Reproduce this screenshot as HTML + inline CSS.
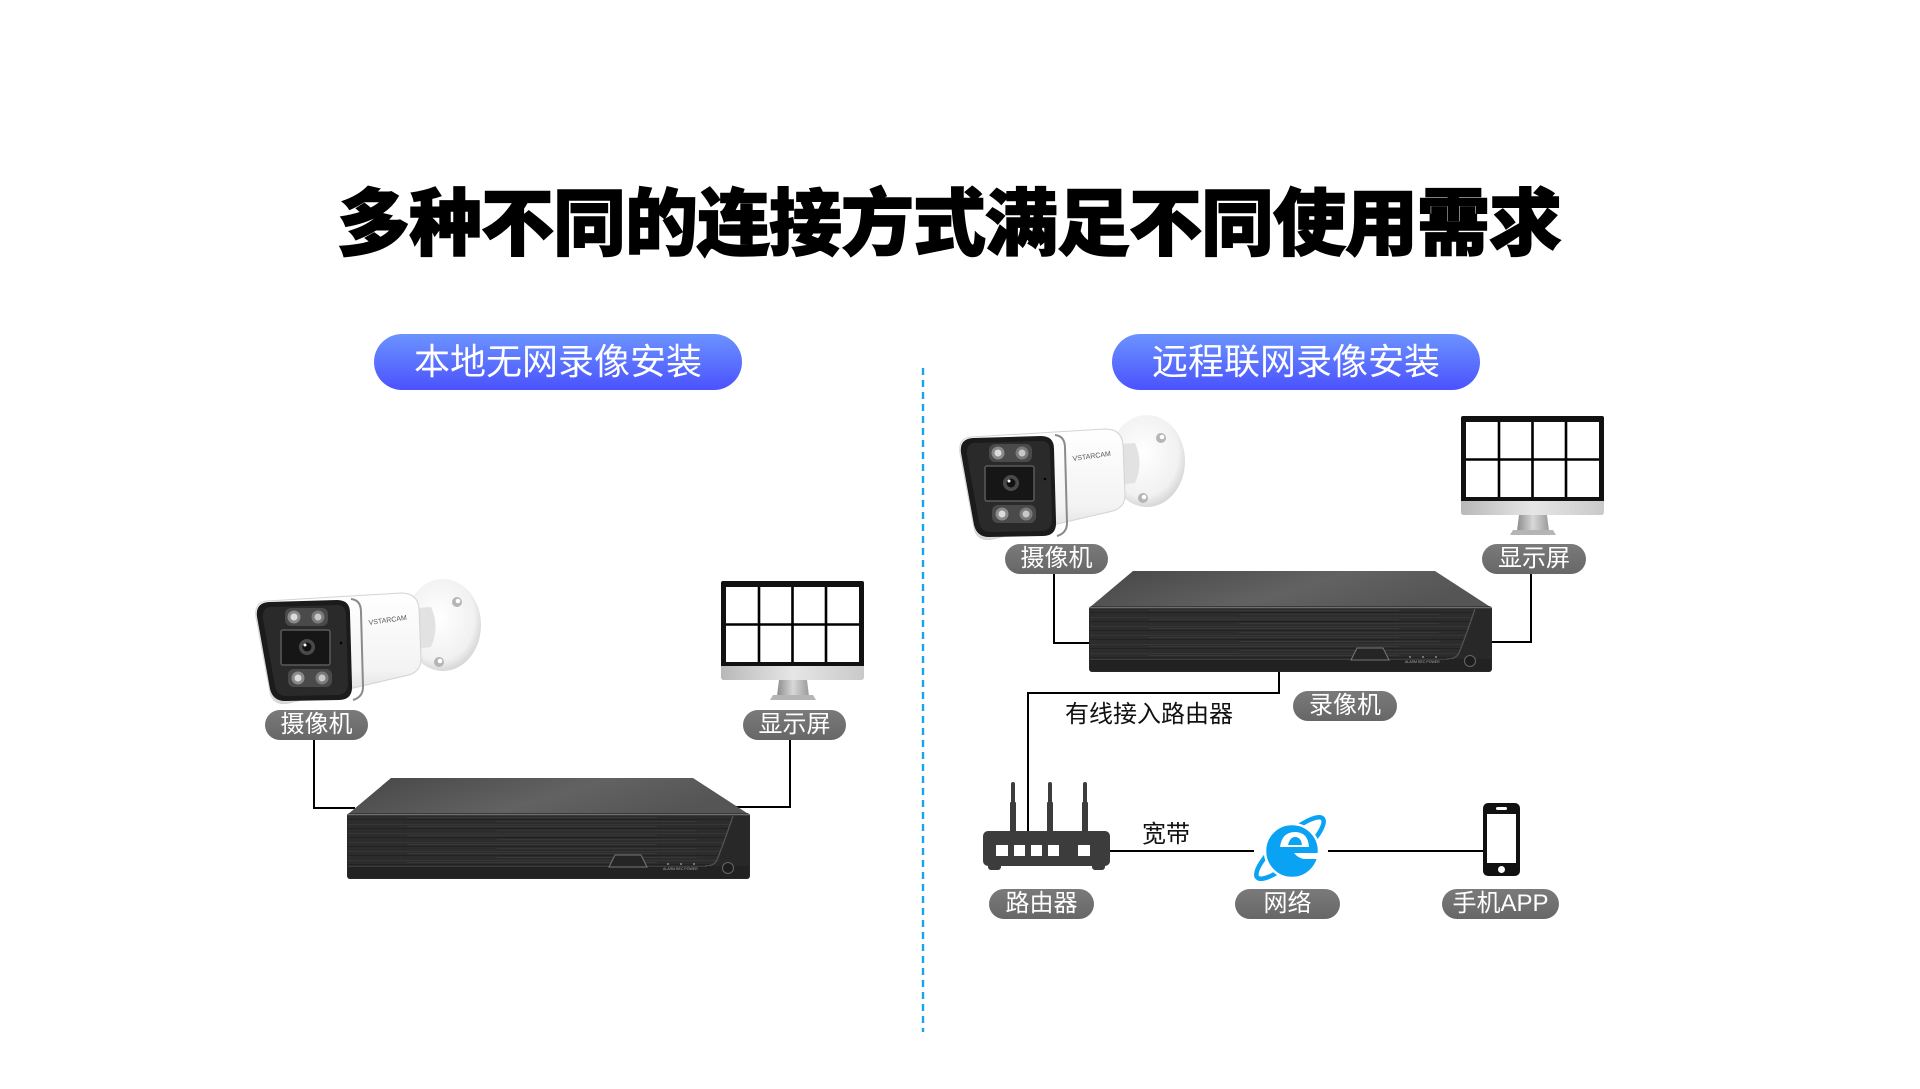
<!DOCTYPE html>
<html><head><meta charset="utf-8">
<style>
html,body{margin:0;padding:0;}
body{width:1920px;height:1089px;background:#fff;position:relative;overflow:hidden;font-family:"Liberation Sans","Noto Sans CJK SC",sans-serif;}
.title{position:absolute;left:337px;top:188px;font-size:73px;line-height:73px;font-weight:900;letter-spacing:-1px;color:#000;white-space:nowrap;-webkit-text-stroke:1.4px #000;}
.bpill{position:absolute;height:56px;width:368px;border-radius:28px;background:linear-gradient(#6b93ff,#4b52fe);color:#fff;font-size:36px;line-height:36px;display:flex;align-items:center;justify-content:center;white-space:nowrap;}
.gpill{position:absolute;height:30px;border-radius:15px;background:linear-gradient(#7a7a7a,#676767);color:#fff;font-size:24px;line-height:24px;display:flex;align-items:center;justify-content:center;white-space:nowrap;}
.lbl{position:absolute;font-size:24px;line-height:24px;color:#111;white-space:nowrap;}
svg{position:absolute;left:0;top:0;}
</style></head><body>
<svg width="1920" height="1089" viewBox="0 0 1920 1089">
<defs>
  <linearGradient id="dvrTop" x1="0" y1="0" x2="1" y2="0.3">
    <stop offset="0" stop-color="#464646"/><stop offset="0.6" stop-color="#626262"/><stop offset="1" stop-color="#555"/>
  </linearGradient>
  <pattern id="brush" patternUnits="userSpaceOnUse" width="403" height="9">
    <rect width="403" height="9" fill="#2c2c2c"/>
    <rect y="1" width="403" height="1" fill="#3a3a3a" opacity="0.7"/>
    <rect x="60" y="3" width="250" height="1" fill="#444" opacity="0.5"/>
    <rect y="5" width="403" height="1" fill="#222"/>
    <rect x="150" y="7" width="200" height="1" fill="#3d3d3d" opacity="0.6"/>
  </pattern>
  <linearGradient id="silver" x1="0" y1="0" x2="1" y2="0">
    <stop offset="0" stop-color="#b8b8b8"/><stop offset="0.5" stop-color="#e6e6e6"/><stop offset="1" stop-color="#c9c9c9"/>
  </linearGradient>
  <linearGradient id="neck" x1="0" y1="0" x2="1" y2="0">
    <stop offset="0" stop-color="#8c8c8c"/><stop offset="0.5" stop-color="#d8d8d8"/><stop offset="1" stop-color="#9a9a9a"/>
  </linearGradient>
  <linearGradient id="camBody" x1="0" y1="0" x2="0" y2="1">
    <stop offset="0" stop-color="#ffffff"/><stop offset="0.7" stop-color="#f3f3f3"/><stop offset="1" stop-color="#d9d9d9"/>
  </linearGradient>
  <radialGradient id="disc" cx="0.45" cy="0.42" r="0.62">
    <stop offset="0" stop-color="#ffffff"/><stop offset="0.75" stop-color="#f1f1f1"/><stop offset="1" stop-color="#cfcfcf"/>
  </radialGradient>

  <symbol id="dvr" viewBox="0 0 403 101">
    <path d="M44,0 L346,0 L403,37 L0,37 Z" fill="url(#dvrTop)"/>
    <rect x="0" y="35" width="403" height="66" rx="3" fill="#282828"/>
    <path d="M1,38 L386,38 Q378,62 370,82 Q367,88 358,88 L1,88 Z" fill="url(#brush)"/>
    <path d="M386,38 Q378,62 370,82 Q367,88 358,88" fill="none" stroke="#555" stroke-width="1.2"/>
    <line x1="1" y1="36.5" x2="402" y2="36.5" stroke="#6e6e6e" stroke-width="1.5"/>
    <rect x="1" y="88" width="401" height="12" fill="#222"/>
    <line x1="1" y1="88.5" x2="360" y2="88.5" stroke="#3c3c3c" stroke-width="1"/>
    <path d="M262,89 L268,77 L294,77 L300,89 Z" fill="#252525" stroke="#777" stroke-width="1"/>
    <circle cx="321" cy="86" r="0.9" fill="#aaa"/><circle cx="334" cy="86" r="0.9" fill="#aaa"/><circle cx="347" cy="86" r="0.9" fill="#aaa"/>
    <text x="316" y="92" font-size="3.5" fill="#aaa" font-family="Liberation Sans">ALARM  REC  POWER</text>
    <circle cx="381" cy="90" r="5.5" fill="#1d1d1d" stroke="#666" stroke-width="1"/>
  </symbol>

  <symbol id="mon" viewBox="0 0 143 119">
    <rect x="0" y="0" width="143" height="87" rx="2" fill="#111"/>
    <rect x="5" y="6" width="133" height="75" fill="#fff"/>
    <line x1="38" y1="6" x2="38" y2="81" stroke="#000" stroke-width="2.6"/>
    <line x1="71.5" y1="6" x2="71.5" y2="81" stroke="#000" stroke-width="2.6"/>
    <line x1="105" y1="6" x2="105" y2="81" stroke="#000" stroke-width="2.6"/>
    <line x1="5" y1="43.5" x2="138" y2="43.5" stroke="#000" stroke-width="2.6"/>
    <path d="M0,85 L143,85 L143,96 Q143,99 140,99 L3,99 Q0,99 0,96 Z" fill="url(#silver)"/>
    <path d="M58,99 L86,99 L88,115 L56,115 Z" fill="url(#neck)"/>
    <path d="M52,114 L92,114 L95,119 L49,119 Z" fill="#b5b5b5"/>
  </symbol>

  <symbol id="cam" viewBox="0 0 230 125">
    <ellipse cx="190" cy="46" rx="38" ry="46" fill="url(#disc)"/>
    <circle cx="204" cy="23" r="5" fill="#b5b5b5"/><circle cx="205" cy="22" r="2.3" fill="#fff"/>
    <circle cx="186" cy="83" r="5" fill="#b5b5b5"/><circle cx="187" cy="82" r="2.3" fill="#fff"/>
    <path d="M150,30 L178,28 Q187,48 178,68 L150,72 Z" fill="#e2e2e2"/>
    <path d="M14,22 L148,14 Q165,14 166,30 L168,80 Q168,92 156,96 L36,124 Q20,127 17,113 L3,38 Q1,23 14,22 Z" fill="url(#camBody)" stroke="#d3d3d3" stroke-width="1"/>
    <path d="M98,20 Q108,21 108,33 L110,108 Q110,118 100,121" fill="none" stroke="#8a8a8a" stroke-width="2"/>
    <path d="M16,23 L84,21 Q97,21 97,34 L99,106 Q100,121 86,121 L32,122 Q20,122 17,110 L4,38 Q2,24 16,23 Z" fill="#1b1b1b"/>
    <path d="M18,28 L84,26 Q93,26 93,36 L95,104 Q95,116 84,116 L33,117 Q24,117 22,107 L10,40 Q9,28 18,28 Z" fill="#2a2a2a"/>
    <rect x="32" y="29" width="43" height="18" rx="6" fill="#4a4a4a"/>
    <circle cx="41" cy="38" r="6.5" fill="#8a8a8a"/><circle cx="41" cy="38" r="3.5" fill="#dcdcdc"/>
    <circle cx="65" cy="38" r="6.5" fill="#7a7a7a"/><circle cx="65" cy="38" r="3.5" fill="#c8c8c8"/>
    <rect x="28" y="51" width="49" height="35" rx="2" fill="#161616" stroke="#5a5a5a" stroke-width="1.5"/>
    <circle cx="54" cy="68" r="8" fill="#4a4a4a"/><circle cx="54" cy="68" r="4.5" fill="#111"/><circle cx="52" cy="66" r="1.5" fill="#fff"/>
    <circle cx="88" cy="64" r="1.3" fill="#000"/>
    <rect x="35" y="90" width="44" height="18" rx="6" fill="#4a4a4a"/>
    <circle cx="45" cy="99" r="6.5" fill="#8a8a8a"/><circle cx="45" cy="99" r="3.5" fill="#dcdcdc"/>
    <circle cx="69" cy="99" r="6.5" fill="#7a7a7a"/><circle cx="69" cy="99" r="3.5" fill="#c8c8c8"/>
    <text x="116" y="46" font-size="7" fill="#555" font-family="Liberation Sans" transform="rotate(-8 116 46)">VSTARCAM</text>
  </symbol>
</defs>

<!-- divider -->
<line x1="923" y1="368" x2="923" y2="1032" stroke="#1aa3ea" stroke-width="2.4" stroke-dasharray="7 5"/>

<!-- connector lines -->
<g stroke="#000" stroke-width="2" fill="none">
  <polyline points="314,738 314,808 355,808"/>
  <polyline points="790,738 790,807 735,807"/>
  <polyline points="1054,573 1054,643 1094,643"/>
  <polyline points="1531,573 1531,642 1488,642"/>
  <polyline points="1279,670 1279,693 1028,693 1028,832"/>
  <line x1="1108" y1="851" x2="1254" y2="851"/>
  <line x1="1328" y1="851" x2="1484" y2="851"/>
</g>

<!-- left devices -->
<use href="#cam" x="253" y="579" width="230" height="125"/>
<use href="#mon" x="721" y="581" width="143" height="119"/>
<use href="#dvr" x="347" y="778" width="403" height="101"/>

<!-- right devices -->
<use href="#cam" x="957" y="415" width="230" height="125"/>
<use href="#mon" x="1461" y="416" width="143" height="119"/>
<use href="#dvr" x="1089" y="571" width="403" height="101"/>

<!-- router -->
<g fill="#3c3c3c">
  <rect x="1011" y="782" width="4" height="50" rx="2"/>
  <rect x="1010" y="802" width="6" height="30" rx="1"/>
  <rect x="1048" y="782" width="4" height="50" rx="2"/>
  <rect x="1047" y="802" width="6" height="30" rx="1"/>
  <rect x="1083" y="782" width="4" height="50" rx="2"/>
  <rect x="1082" y="802" width="6" height="30" rx="1"/>
  <rect x="983" y="831" width="127" height="35" rx="5"/>
  <rect x="988" y="862" width="13" height="8" rx="3"/>
  <rect x="1092" y="862" width="13" height="8" rx="3"/>
</g>
<g fill="#fff">
  <rect x="996" y="845" width="12" height="11"/>
  <rect x="1014" y="845" width="11" height="11"/>
  <rect x="1031" y="845" width="11" height="11"/>
  <rect x="1048" y="845" width="11" height="11"/>
  <rect x="1078" y="845" width="12" height="11"/>
</g>

<!-- IE logo -->
<g transform="translate(1290,848)">
  <ellipse cx="0" cy="0" rx="44" ry="12" transform="rotate(-42)" fill="none" stroke="#0aa2f2" stroke-width="4.5"/>
  <circle cx="2" cy="3" r="27" fill="#0aa2f2" stroke="#fff" stroke-width="2.5"/>
  <path d="M-10,-1 Q-8,-16 5,-16 Q18,-16 19,-1 Z" fill="#fff"/>
  <path d="M-2,-3 Q0,-11 5,-11 Q11,-11 12,-3 Z" fill="#0aa2f2"/>
  <path d="M4,5 L32,5 L32,11 L14,11 Q8,10 4,5 Z" fill="#fff"/>
</g>

<!-- phone -->
<rect x="1483" y="803" width="37" height="73" rx="5" fill="#111"/>
<rect x="1487" y="814" width="29" height="49" fill="#fff"/>
<rect x="1496" y="807" width="11" height="3" rx="1.5" fill="#fff"/>
<circle cx="1501.5" cy="869.5" r="3.5" fill="#fff"/>
</svg>

<div class="title">多种不同的连接方式满足不同使用需求</div>

<div class="bpill" style="left:374px;top:334px;">本地无网录像安装</div>
<div class="bpill" style="left:1112px;top:334px;">远程联网录像安装</div>

<div class="gpill" style="left:265px;top:710px;width:103px;">摄像机</div>
<div class="gpill" style="left:743px;top:710px;width:103px;">显示屏</div>
<div class="gpill" style="left:1005px;top:544px;width:103px;">摄像机</div>
<div class="gpill" style="left:1482px;top:544px;width:104px;">显示屏</div>
<div class="gpill" style="left:1293px;top:691px;width:104px;">录像机</div>
<div class="gpill" style="left:989px;top:889px;width:105px;">路由器</div>
<div class="gpill" style="left:1235px;top:889px;width:105px;">网络</div>
<div class="gpill" style="left:1442px;top:889px;width:117px;">手机APP</div>

<div class="lbl" style="left:1065px;top:703px;">有线接入路由器</div>
<div class="lbl" style="left:1142px;top:823px;">宽带</div>
</body></html>
